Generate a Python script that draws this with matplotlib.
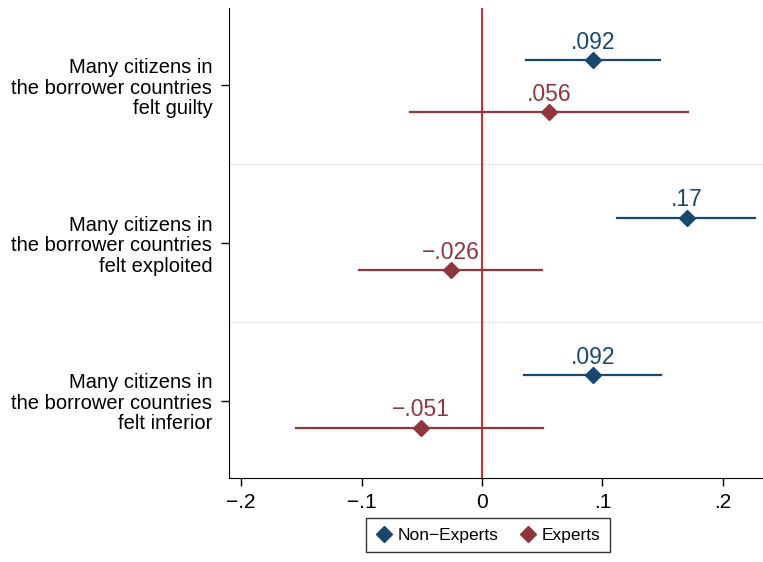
import numpy as np
import matplotlib.pyplot as plt

plt.rcParams['font.family'] = ['Liberation Sans', 'DejaVu Sans']

# Datos
items = ["Many citizens in\nthe borrower countries\nfelt guilty",
         "Many citizens in\nthe borrower countries\nfelt exploited",
         "Many citizens in\nthe borrower countries\nfelt inferior"]
nonexp_coef = [0.092, 0.17, 0.092]
nonexp_lo = [0.0365, 0.112, 0.035]
nonexp_hi = [0.148, 0.227, 0.149]
exp_coef = [0.056, -0.026, -0.051]
exp_lo = [-0.060, -0.102, -0.154]
exp_hi = [0.171, 0.050, 0.051]
xticks = [-0.2, -0.1, 0, 0.1, 0.2]
xticklabels = ["\u2212.2", "\u2212.1", "0", ".1", ".2"]

navy = "#1a476f"
maroon = "#90353b"

def fmt(v):
    s = f"{abs(v):.3f}".rstrip("0").lstrip("0")
    return ("\u2212" if v < 0 else "") + s

fig = plt.figure(figsize=(7.63, 5.62), dpi=100)
ax = fig.add_axes([229/763, 1 - 478/562, 1 - 229/763, 470/562])

centers = np.array([3, 2, 1])
off_n, off_e = 0.16, -0.17

for i, c in enumerate(centers):
    ax.plot([nonexp_lo[i], nonexp_hi[i]], [c + off_n] * 2, color=navy, lw=1.6, zorder=3)
    ax.plot([exp_lo[i], exp_hi[i]], [c + off_e] * 2, color=maroon, lw=1.6, zorder=3)
    ax.text(nonexp_coef[i], c + off_n + 0.04, fmt(nonexp_coef[i]), color=navy,
            ha="center", va="bottom", fontsize=16.5)
    ax.text(exp_coef[i], c + off_e + 0.04, fmt(exp_coef[i]), color=maroon,
            ha="center", va="bottom", fontsize=16.5)

ax.plot(nonexp_coef, centers + off_n, "D", color=navy, ms=8, ls="none",
        zorder=4, label="Non\u2212Experts")
ax.plot(exp_coef, centers + off_e, "D", color=maroon, ms=8, ls="none",
        zorder=4, label="Experts")

ax.axvline(0, color="#e0202e", lw=1.4, zorder=2)
for g in [1.5, 2.5]:
    ax.axhline(g, color="#eaeaea", lw=1, zorder=1)

ax.set_xlim(-0.21, 0.2333)
ax.set_ylim(0.51, 3.49)
ax.set_xticks(xticks)
ax.set_xticklabels(xticklabels, fontsize=15)
ax.set_yticks(centers)
ax.set_yticklabels(items, fontsize=14.5, ha="right", linespacing=1.1)
ax.tick_params(axis="both", length=6, width=1, color="black")
ax.tick_params(axis="y", pad=6)
ax.tick_params(axis="x", pad=5)

for s in ["top", "right"]:
    ax.spines[s].set_visible(False)

leg = fig.legend(loc="lower center", bbox_to_anchor=(488/763, 1/562), ncol=2,
                 fontsize=12.5, frameon=True, fancybox=False, edgecolor="black",
                 handletextpad=0.3, columnspacing=1.2, borderpad=0.55,
                 handlelength=1.0)
leg.get_frame().set_linewidth(1)

fig.savefig("out.png", dpi=100)
